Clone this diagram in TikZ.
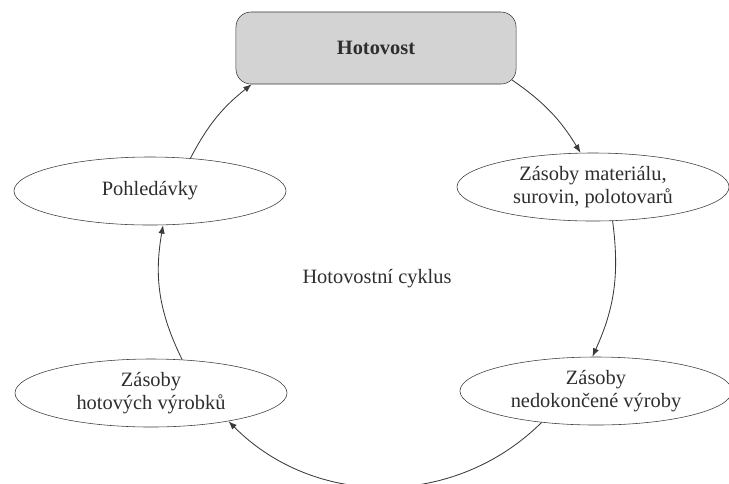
\documentclass[tikz,border=0pt]{standalone}
\usepackage{fontspec}
\setmainfont{Liberation Serif}
\usepackage{xcolor}
\usetikzlibrary{shapes,arrows.meta,calc}

\definecolor{cashgray}{HTML}{D3D3D3}
\definecolor{linegray}{HTML}{3A3A3A}
\definecolor{txtgray}{HTML}{2E2E2E}

\begin{document}
\begin{tikzpicture}[x=0.025cm, y=-0.025cm, >={Latex[length=6pt,width=4.5pt]},
    cash/.style={rectangle, rounded corners=0.375cm, draw=linegray, fill=cashgray, minimum width=7cm, minimum height=1.8cm, font=\fontsize{14.5}{16.5}\selectfont\bfseries, text=txtgray},
    stock/.style={ellipse, draw=linegray, inner sep=0pt, minimum width=6.8cm, minimum height=1.7cm, align=center, font=\fontsize{14.5}{16.5}\selectfont, text=txtgray},
    flow/.style={->, draw=linegray, line width=0.6pt}
]
    \useasboundingbox (0,0) rectangle (729,483);

    \node[cash] (cash) at (376,48) {Hotovost};
    \node[stock] (mat) at (593,187) {Zásoby materiálu,\\surovin, polotovarů};
    \node[stock] (wip) at (596,391) {Zásoby\\nedokončené výroby};
    \node[stock] (fin) at (151,393) {Zásoby\\hotových výrobků};
    \node[stock] (recv) at (150,191) {Pohledávky};
    \node[font=\fontsize{14.5}{16.5}\selectfont, text=txtgray] (cycle) at (377,279) {Hotovostní cyklus};

    \draw[flow] ($(cash.south east)+(-4.5,-4.5)$) to[bend left=12] (mat.110);
    \draw[flow] (mat.-60) to[bend left=16] (wip.96);
    \draw[flow] (wip.-150) to[bend left=45] (fin.-20);
    \draw[flow] (fin.47) to[bend left=18] (recv.-69);
    \draw[flow] (recv.39) to[bend left=12] ($(cash.south west)+(16,0)$);
\end{tikzpicture}
\end{document}
